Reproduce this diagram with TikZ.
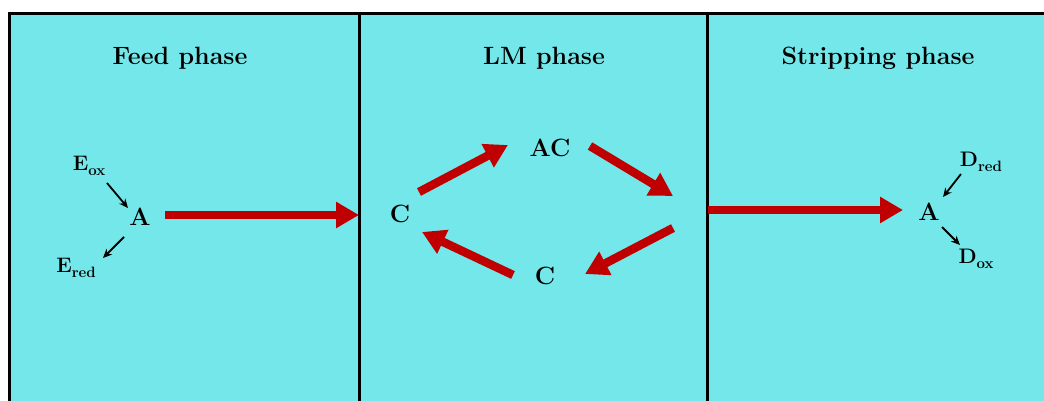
\documentclass[tikz,border=0pt]{standalone}
\usepackage{fontspec}
\usetikzlibrary{arrows.meta}
\definecolor{phasebg}{RGB}{116,231,234}
\definecolor{fluxred}{RGB}{192,0,0}
% bold letter with a lowered bold subscript
\newcommand{\redoxlabel}[2]{#1\raisebox{-4.5pt}{\fontsize{15}{18}\selectfont #2}}
\tikzset{
  phaselabel/.style={font=\fontsize{25}{30}\selectfont\bfseries, inner sep=0pt},
  species/.style={font=\fontsize{25}{30}\selectfont\bfseries, inner sep=0pt},
  redox/.style={font=\fontsize{21}{25}\selectfont\bfseries, inner sep=0pt},
  flux/.style={draw=fluxred, line width=8.5pt, -{Triangle[length=23pt,width=25pt]}, fluxred},
  small/.style={draw=black, line width=1.8pt, -{Stealth[length=9pt,width=8pt]}},
}
\begin{document}
\begin{tikzpicture}[x=1pt,y=-1pt]
\useasboundingbox (0,0) rectangle (1044,401);
\clip (0,0) rectangle (1044,401);
% three compartments
\fill[phasebg] (9.5,13.5) rectangle (1070,420);
\draw[line width=3.5pt] (9.5,430) -- (9.5,13.5) -- (1070,13.5);
\draw[line width=3.5pt] (359.5,13.5) -- (359.5,430);
\draw[line width=3.5pt] (707.5,13.5) -- (707.5,430);
% headings
\node[phaselabel] (feed) at (180,58) {Feed phase};
\node[phaselabel] (lm) at (544,58) {LM phase};
\node[phaselabel] (strip) at (878,58) {Stripping phase};
% feed phase
\node[redox] (eox) at (89,166) {\redoxlabel{E}{ox}};
\node[species] (afeed) at (140,217) {A};
\node[redox] (ered) at (76,268) {\redoxlabel{E}{red}};
\coordinate (f1) at (107,183); \coordinate (f2) at (128,208);
\coordinate (f3) at (124,237); \coordinate (f4) at (103,258);
\draw[small] (f1) -- (f2);
\draw[small] (f3) -- (f4);
% transfer into the membrane
\coordinate (t1) at (165,215); \coordinate (t2) at (359,215);
\draw[flux] (t1) -- (t2);
% liquid membrane cycle
\node[species] (cl) at (400,214) {C};
\node[species] (ac) at (550,148) {AC};
\node[species] (cb) at (545,276) {C};
\coordinate (m1) at (419,192); \coordinate (m2) at (508,145);
\coordinate (m3) at (590,146); \coordinate (m4) at (673,196);
\coordinate (m5) at (673,228); \coordinate (m6) at (585,274);
\coordinate (m7) at (513,275); \coordinate (m8) at (422,232);
\draw[flux] (m1) -- (m2);
\draw[flux] (m3) -- (m4);
\draw[flux] (m5) -- (m6);
\draw[flux] (m7) -- (m8);
% transfer into the stripping phase
\coordinate (s1) at (708,210); \coordinate (s2) at (903,210);
\draw[flux] (s1) -- (s2);
% stripping phase
\node[species] (astrip) at (929,212) {A};
\node[redox] (dred) at (981,162) {\redoxlabel{D}{red}};
\node[redox] (dox) at (976,259) {\redoxlabel{D}{ox}};
\coordinate (d1) at (961,174); \coordinate (d2) at (943,197);
\coordinate (d3) at (942,227); \coordinate (d4) at (960,245);
\draw[small] (d1) -- (d2);
\draw[small] (d3) -- (d4);
\end{tikzpicture}
\end{document}
